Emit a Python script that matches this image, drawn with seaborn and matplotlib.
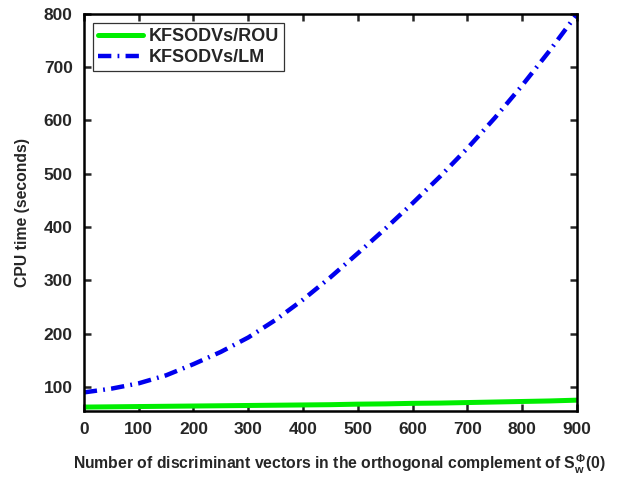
import pandas as pd
import numpy as np
import seaborn as sns
import matplotlib
matplotlib.use('Agg')
import matplotlib.pyplot as plt

# values
n_vectors = [0, 50, 100, 150, 200, 250, 300, 350, 400, 450,
             500, 550, 600, 650, 700, 750, 800, 850, 900]
cpu_rou = [62.5, 63, 63.5, 64, 64.5, 65, 65.5, 66, 66.5, 67,
           68, 68.5, 69.5, 70, 71, 72, 73, 74, 75.5]
cpu_lm = [90, 97, 107, 122, 143, 166, 193, 226, 264, 306,
          351, 397, 445, 495, 548, 605, 666, 731, 800]

sns.set_style('ticks')
plt.rcParams['font.family'] = ['Liberation Sans', 'DejaVu Sans']
plt.rcParams['font.weight'] = 'bold'
plt.rcParams['mathtext.fontset'] = 'custom'
plt.rcParams['mathtext.rm'] = 'Liberation Sans:bold'
plt.rcParams['mathtext.it'] = 'Liberation Sans:bold'
plt.rcParams['mathtext.bf'] = 'Liberation Sans:bold'

df = pd.DataFrame({'n': n_vectors, 'ROU': cpu_rou, 'LM': cpu_lm})

fig = plt.figure(figsize=(6.3, 4.78), dpi=100)
ax = fig.add_axes([0.133, 0.140, 0.783, 0.831])

sns.lineplot(data=df, x='n', y='ROU', ax=ax, color='#00ee00', lw=3.6,
             label='KFSODVs/ROU')
sns.lineplot(data=df, x='n', y='LM', ax=ax, color='#0000ee', lw=3.2,
             label='KFSODVs/LM')
ax.lines[1].set_dashes([3, 1.4, 0.4, 1.4])

ax.set_xlim(0, 900)
ax.set_ylim(55, 800)
ax.set_xticks(range(0, 901, 100))
ax.set_yticks(range(100, 801, 100))
ax.tick_params(direction='in', top=True, right=True, width=1.8, length=5,
               labelsize=12.5, pad=8)
for lab in ax.get_xticklabels() + ax.get_yticklabels():
    lab.set_fontweight('bold')
for s in ax.spines.values():
    s.set_linewidth(1.8)
    s.set_color('black')

ax.set_ylabel('CPU time (seconds)', fontsize=11.3, fontweight='bold', labelpad=10)
ax.set_xlabel(r'Number of discriminant vectors in the orthogonal complement of $S_w^{\Phi}$(0)',
              fontsize=11.3, fontweight='bold', labelpad=13)
ax.xaxis.set_label_coords(0.517, -0.105)

leg = ax.legend(loc='upper left', fontsize=13, frameon=True, fancybox=False,
                borderaxespad=0.5, handlelength=2.5, borderpad=0.3,
                labelspacing=0.2, handletextpad=0.3)
leg.get_frame().set_edgecolor('black')
leg.get_frame().set_linewidth(0.9)
for t in leg.get_texts():
    t.set_fontweight('bold')

fig.savefig('out.png', dpi=100)
